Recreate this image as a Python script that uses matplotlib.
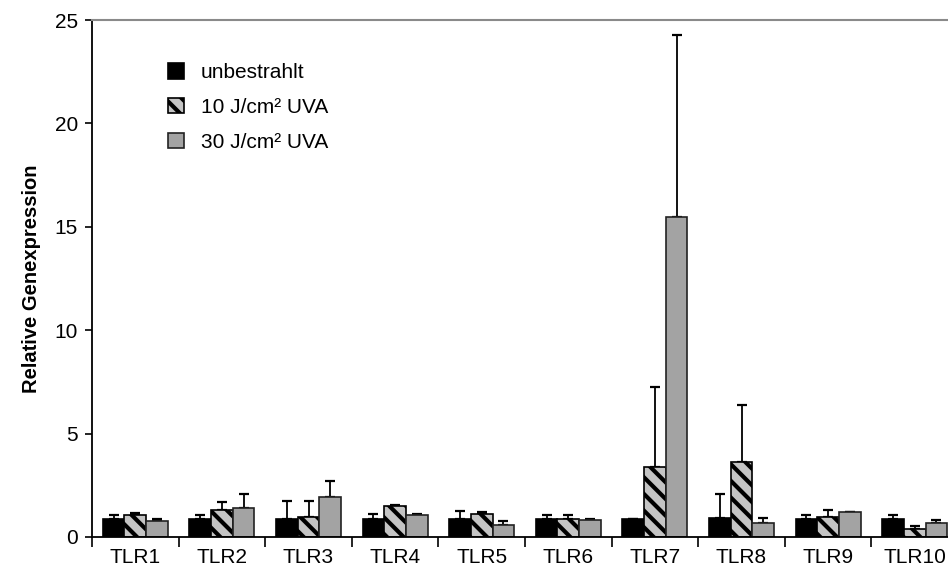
import matplotlib
matplotlib.use("Agg")
import matplotlib.pyplot as plt
import numpy as np
from matplotlib.patches import Patch

plt.rcParams['font.family'] = ['Liberation Sans', 'DejaVu Sans']
plt.rcParams['hatch.linewidth'] = 3.0
plt.rcParams['hatch.color'] = 'black'

categories = ["TLR1", "TLR2", "TLR3", "TLR4", "TLR5", "TLR6", "TLR7", "TLR8", "TLR9", "TLR10"]
series_labels = ["unbestrahlt", "10 J/cm² UVA", "30 J/cm² UVA"]
unbestrahlt = [0.89, 0.89, 0.89, 0.89, 0.89, 0.89, 0.89, 0.90, 0.89, 0.89]
unbestrahlt_err = [0.16, 0.16, 0.85, 0.21, 0.36, 0.16, 0.0, 1.18, 0.16, 0.16]
uva10 = [1.05, 1.30, 0.98, 1.48, 1.13, 0.89, 3.38, 3.64, 0.98, 0.38]
uva10_err = [0.09, 0.38, 0.76, 0.09, 0.09, 0.16, 3.88, 2.74, 0.32, 0.17]
uva30 = [0.77, 1.42, 1.92, 1.05, 0.57, 0.84, 15.47, 0.66, 1.22, 0.66]
uva30_err = [0.08, 0.66, 0.77, 0.05, 0.18, 0.03, 8.80, 0.24, 0.0, 0.16]
yticks = [0, 5, 10, 15, 20, 25]

W, H = 948, 570
fig = plt.figure(figsize=(W / 100, H / 100), dpi=100)
ax = fig.add_axes([92 / W, 33 / H, 866 / W, 517 / H])

x = np.arange(len(categories))
bw = 0.25
styles = [
    dict(color='black', edgecolor='black', hatch=None),
    dict(color='#c4c4c4', edgecolor='black', hatch='\\\\'),
    dict(color='#a3a3a3', edgecolor='#222222', hatch=None),
]
vals = [unbestrahlt, uva10, uva30]
errs = [unbestrahlt_err, uva10_err, uva30_err]
for i, (v, e, st) in enumerate(zip(vals, errs, styles)):
    pos = x + (i - 1) * bw
    ax.bar(pos, v, width=bw, color=st['color'], edgecolor=st['edgecolor'],
           hatch=st['hatch'], linewidth=1.2, zorder=2)
    ax.errorbar(pos, v, yerr=[np.zeros(len(e)), e], fmt='none', ecolor='black',
                elinewidth=1.3, capsize=3.5, capthick=1.6, zorder=1)

ax.set_xlim(-0.5, len(categories) - 0.5)
ax.set_ylim(0, 25)
ax.set_yticks(yticks)
ax.set_yticklabels([str(t) for t in yticks], fontsize=15)
ax.set_xticks(x)
ax.set_xticklabels(categories, fontsize=15)
ax.set_xticks(np.arange(len(categories) + 1) - 0.5, minor=True)
ax.tick_params(axis='x', which='major', length=0, pad=8)
ax.tick_params(axis='x', which='minor', length=7, width=1.2, direction='out')
ax.tick_params(axis='y', length=5, width=1.2, direction='out', pad=5)

for s in ['left', 'bottom']:
    ax.spines[s].set_linewidth(1.3)
    ax.spines[s].set_color('black')
ax.spines['top'].set_color('#8a8a8a')
ax.spines['top'].set_linewidth(1.5)
ax.spines['right'].set_color('#8a8a8a')

ax.set_ylabel("Relative Genexpression", fontsize=14.5, fontweight='bold', labelpad=10)

handles = [Patch(facecolor=s['color'], edgecolor=s['edgecolor'], hatch=s['hatch'], linewidth=1.2)
           for s in styles]
leg = ax.legend(handles, series_labels, loc='upper left', bbox_to_anchor=(68 / 866, 1 - 35 / 517),
                frameon=False, fontsize=15, handlelength=0.75, handleheight=0.75,
                labelspacing=0.75, handletextpad=0.8, borderaxespad=0)

fig.savefig("out.png", dpi=100)
